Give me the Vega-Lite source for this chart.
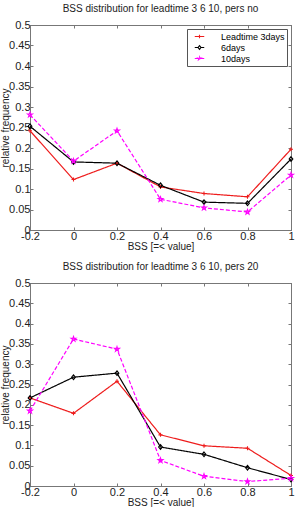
{
  "$schema": "https://vega.github.io/schema/vega-lite/v6.json",
  "padding": {"left": 0, "top": 3, "right": 5, "bottom": 0},
  "background": "white",
  "spacing": 9,
  "data": {
    "values": [
      {"panel": "no", "series": "Leadtime 3days", "bss": -0.2, "freq": 0.242},
      {"panel": "no", "series": "Leadtime 3days", "bss": 0.0, "freq": 0.123},
      {"panel": "no", "series": "Leadtime 3days", "bss": 0.2, "freq": 0.163},
      {"panel": "no", "series": "Leadtime 3days", "bss": 0.4, "freq": 0.105},
      {"panel": "no", "series": "Leadtime 3days", "bss": 0.6, "freq": 0.089},
      {"panel": "no", "series": "Leadtime 3days", "bss": 0.8, "freq": 0.081},
      {"panel": "no", "series": "Leadtime 3days", "bss": 1.0, "freq": 0.197},
      {"panel": "no", "series": "6days", "bss": -0.2, "freq": 0.253},
      {"panel": "no", "series": "6days", "bss": 0.0, "freq": 0.166},
      {"panel": "no", "series": "6days", "bss": 0.2, "freq": 0.163},
      {"panel": "no", "series": "6days", "bss": 0.4, "freq": 0.109},
      {"panel": "no", "series": "6days", "bss": 0.6, "freq": 0.068},
      {"panel": "no", "series": "6days", "bss": 0.8, "freq": 0.065},
      {"panel": "no", "series": "6days", "bss": 1.0, "freq": 0.173},
      {"panel": "no", "series": "10days", "bss": -0.2, "freq": 0.281},
      {"panel": "no", "series": "10days", "bss": 0.0, "freq": 0.168},
      {"panel": "no", "series": "10days", "bss": 0.2, "freq": 0.242},
      {"panel": "no", "series": "10days", "bss": 0.4, "freq": 0.075},
      {"panel": "no", "series": "10days", "bss": 0.6, "freq": 0.054},
      {"panel": "no", "series": "10days", "bss": 0.8, "freq": 0.044},
      {"panel": "no", "series": "10days", "bss": 1.0, "freq": 0.134},
      {"panel": "20", "series": "Leadtime 3days", "bss": -0.2, "freq": 0.217},
      {"panel": "20", "series": "Leadtime 3days", "bss": 0.0, "freq": 0.179},
      {"panel": "20", "series": "Leadtime 3days", "bss": 0.2, "freq": 0.258},
      {"panel": "20", "series": "Leadtime 3days", "bss": 0.4, "freq": 0.126},
      {"panel": "20", "series": "Leadtime 3days", "bss": 0.6, "freq": 0.099},
      {"panel": "20", "series": "Leadtime 3days", "bss": 0.8, "freq": 0.093},
      {"panel": "20", "series": "Leadtime 3days", "bss": 1.0, "freq": 0.026},
      {"panel": "20", "series": "6days", "bss": -0.2, "freq": 0.217},
      {"panel": "20", "series": "6days", "bss": 0.0, "freq": 0.268},
      {"panel": "20", "series": "6days", "bss": 0.2, "freq": 0.278},
      {"panel": "20", "series": "6days", "bss": 0.4, "freq": 0.096},
      {"panel": "20", "series": "6days", "bss": 0.6, "freq": 0.078},
      {"panel": "20", "series": "6days", "bss": 0.8, "freq": 0.045},
      {"panel": "20", "series": "6days", "bss": 1.0, "freq": 0.016},
      {"panel": "20", "series": "10days", "bss": -0.2, "freq": 0.185},
      {"panel": "20", "series": "10days", "bss": 0.0, "freq": 0.362},
      {"panel": "20", "series": "10days", "bss": 0.2, "freq": 0.337},
      {"panel": "20", "series": "10days", "bss": 0.4, "freq": 0.063},
      {"panel": "20", "series": "10days", "bss": 0.6, "freq": 0.024},
      {"panel": "20", "series": "10days", "bss": 0.8, "freq": 0.011},
      {"panel": "20", "series": "10days", "bss": 1.0, "freq": 0.019}
    ]
  },
  "vconcat": [
    {
      "width": 261,
      "height": 205,
      "title": {"text": "BSS distribution for leadtime 3 6 10, pers no"},
      "transform": [{"filter": "datum.panel == 'no'"}],
      "layer": [
        {
          "mark": {"type": "line", "strokeWidth": 1.2},
          "encoding": {
            "x": {"field": "bss", "type": "quantitative", "title": "BSS [=< value]",
                  "scale": {"domain": [-0.2, 1], "nice": false, "zero": false},
                  "axis": {"values": [-0.2, 0, 0.2, 0.4, 0.6, 0.8, 1], "labelExpr": "replace(format(datum.value, '~g'), '−', '-')"}},
            "y": {"field": "freq", "type": "quantitative", "title": "relative frequency",
                  "scale": {"domain": [0, 0.5], "nice": false},
                  "axis": {"values": [0, 0.05, 0.1, 0.15, 0.2, 0.25, 0.3, 0.35, 0.4, 0.45, 0.5], "format": "~g"}},
            "color": {"field": "series", "type": "nominal",
                      "scale": {"domain": ["Leadtime 3days", "6days", "10days"], "range": ["#ee1c1c", "#000000", "#ff00ff"]},
                      "legend": {"title": null, "orient": "top-right", "offset": 4, "padding": 2,
                                 "strokeColor": "#555555", "fillColor": "white", "cornerRadius": 0,
                                 "labelFont": "Liberation Sans", "labelFontSize": 9, "labelColor": "black",
                                 "symbolSize": 90, "symbolOffset": 5, "symbolStrokeWidth": 1.1, "rowPadding": 0, "labelOffset": 16,
                                 "encode": {"symbols": {"update": {
                                   "shape": {"signal": "datum.value == 'Leadtime 3days' ? 'M-1,0H1M0,-0.35V0.35' : datum.value == '6days' ? 'M-1,0H-0.3M0.3,0H1M0,-0.4L0.3,0L0,0.4L-0.3,0Z' : 'M-1,0H-0.33M0.33,0H1M0,-0.35L0.079,-0.108L0.333,-0.108L0.127,0.041L0.206,0.283L0,0.134L-0.206,0.283L-0.127,0.041L-0.333,-0.108L-0.079,-0.108Z'"},
                                   "strokeDash": {"signal": "datum.value == '10days' ? [3, 2] : [1, 0]"},
                                   "stroke": {"signal": "datum.value == 'Leadtime 3days' ? '#ee1c1c' : datum.value == '6days' ? '#000000' : '#ff00ff'"},
                                   "fill": {"value": "transparent"}
                                 }}}}},
            "strokeDash": {"field": "series", "type": "nominal",
                           "scale": {"domain": ["Leadtime 3days", "6days", "10days"], "range": [[1, 0], [1, 0], [4, 2]]},
                           "legend": null}
          }
        },
        {
          "transform": [{"filter": "datum.series == 'Leadtime 3days'"}],
          "mark": {"type": "point", "filled": false, "strokeWidth": 1.1, "opacity": 1, "color": "#ee1c1c", "shape": "M-1,0H1M0,-1V1", "size": 16},
          "encoding": {
            "x": {"field": "bss", "type": "quantitative",
                  "axis": {"orient": "top", "labels": false, "title": null, "values": [-0.2, 0, 0.2, 0.4, 0.6, 0.8, 1]}},
            "y": {"field": "freq", "type": "quantitative",
                  "axis": {"orient": "right", "labels": false, "title": null, "values": [0, 0.05, 0.1, 0.15, 0.2, 0.25, 0.3, 0.35, 0.4, 0.45, 0.5]}}
          }
        },
        {
          "transform": [{"filter": "datum.series == '6days'"}],
          "mark": {"type": "point", "filled": false, "strokeWidth": 1.1, "opacity": 1, "color": "#000000", "shape": "M0,-1L0.8,0L0,1L-0.8,0Z", "size": 22},
          "encoding": {
            "x": {"field": "bss", "type": "quantitative", "axis": null},
            "y": {"field": "freq", "type": "quantitative", "axis": null}
          }
        },
        {
          "transform": [{"filter": "datum.series == '10days'"}],
          "mark": {"type": "point", "filled": false, "strokeWidth": 1.1, "opacity": 1, "color": "#ff00ff", "shape": "M0,-1L0.225,-0.309L0.951,-0.309L0.363,0.118L0.588,0.809L0,0.382L-0.588,0.809L-0.363,0.118L-0.951,-0.309L-0.225,-0.309Z", "size": 26},
          "encoding": {
            "x": {"field": "bss", "type": "quantitative", "axis": null},
            "y": {"field": "freq", "type": "quantitative", "axis": null}
          }
        }
      ],
      "resolve": {"axis": {"x": "independent", "y": "independent"}}
    },
    {
      "width": 261,
      "height": 203,
      "title": {"text": "BSS distribution for leadtime 3 6 10, pers 20"},
      "transform": [{"filter": "datum.panel == '20'"}],
      "layer": [
        {
          "mark": {"type": "line", "strokeWidth": 1.2},
          "encoding": {
            "x": {"field": "bss", "type": "quantitative", "title": "BSS [=< value]",
                  "scale": {"domain": [-0.2, 1], "nice": false, "zero": false},
                  "axis": {"values": [-0.2, 0, 0.2, 0.4, 0.6, 0.8, 1], "labelExpr": "replace(format(datum.value, '~g'), '−', '-')"}},
            "y": {"field": "freq", "type": "quantitative", "title": "relative frequency",
                  "scale": {"domain": [0, 0.5], "nice": false},
                  "axis": {"values": [0, 0.05, 0.1, 0.15, 0.2, 0.25, 0.3, 0.35, 0.4, 0.45, 0.5], "format": "~g"}},
            "color": {"field": "series", "type": "nominal",
                      "scale": {"domain": ["Leadtime 3days", "6days", "10days"], "range": ["#ee1c1c", "#000000", "#ff00ff"]},
                      "legend": {"title": null, "orient": "top-right", "offset": 4, "padding": 2,
                                 "strokeColor": "#555555", "fillColor": "white", "cornerRadius": 0,
                                 "labelFont": "Liberation Sans", "labelFontSize": 9, "labelColor": "black",
                                 "symbolSize": 90, "symbolOffset": 5, "symbolStrokeWidth": 1.1, "rowPadding": 0, "labelOffset": 16,
                                 "encode": {"symbols": {"update": {
                                   "shape": {"signal": "datum.value == 'Leadtime 3days' ? 'M-1,0H1M0,-0.35V0.35' : datum.value == '6days' ? 'M-1,0H-0.3M0.3,0H1M0,-0.4L0.3,0L0,0.4L-0.3,0Z' : 'M-1,0H-0.33M0.33,0H1M0,-0.35L0.079,-0.108L0.333,-0.108L0.127,0.041L0.206,0.283L0,0.134L-0.206,0.283L-0.127,0.041L-0.333,-0.108L-0.079,-0.108Z'"},
                                   "strokeDash": {"signal": "datum.value == '10days' ? [3, 2] : [1, 0]"},
                                   "stroke": {"signal": "datum.value == 'Leadtime 3days' ? '#ee1c1c' : datum.value == '6days' ? '#000000' : '#ff00ff'"},
                                   "fill": {"value": "transparent"}
                                 }}}}},
            "strokeDash": {"field": "series", "type": "nominal",
                           "scale": {"domain": ["Leadtime 3days", "6days", "10days"], "range": [[1, 0], [1, 0], [4, 2]]},
                           "legend": null}
          }
        },
        {
          "transform": [{"filter": "datum.series == 'Leadtime 3days'"}],
          "mark": {"type": "point", "filled": false, "strokeWidth": 1.1, "opacity": 1, "color": "#ee1c1c", "shape": "M-1,0H1M0,-1V1", "size": 16},
          "encoding": {
            "x": {"field": "bss", "type": "quantitative",
                  "axis": {"orient": "top", "labels": false, "title": null, "values": [-0.2, 0, 0.2, 0.4, 0.6, 0.8, 1]}},
            "y": {"field": "freq", "type": "quantitative",
                  "axis": {"orient": "right", "labels": false, "title": null, "values": [0, 0.05, 0.1, 0.15, 0.2, 0.25, 0.3, 0.35, 0.4, 0.45, 0.5]}}
          }
        },
        {
          "transform": [{"filter": "datum.series == '6days'"}],
          "mark": {"type": "point", "filled": false, "strokeWidth": 1.1, "opacity": 1, "color": "#000000", "shape": "M0,-1L0.8,0L0,1L-0.8,0Z", "size": 22},
          "encoding": {
            "x": {"field": "bss", "type": "quantitative", "axis": null},
            "y": {"field": "freq", "type": "quantitative", "axis": null}
          }
        },
        {
          "transform": [{"filter": "datum.series == '10days'"}],
          "mark": {"type": "point", "filled": false, "strokeWidth": 1.1, "opacity": 1, "color": "#ff00ff", "shape": "M0,-1L0.225,-0.309L0.951,-0.309L0.363,0.118L0.588,0.809L0,0.382L-0.588,0.809L-0.363,0.118L-0.951,-0.309L-0.225,-0.309Z", "size": 26},
          "encoding": {
            "x": {"field": "bss", "type": "quantitative", "axis": null},
            "y": {"field": "freq", "type": "quantitative", "axis": null}
          }
        }
      ],
      "resolve": {"axis": {"x": "independent", "y": "independent"}}
    }
  ],
  "config": {
    "font": "Liberation Sans",
    "view": {"stroke": "#777777", "strokeWidth": 1},
    "axis": {
      "grid": false,
      "domainColor": "#777777",
      "tickColor": "#777777",
      "tickSize": -3,
      "labelColor": "#222222",
      "labelFont": "Liberation Sans",
      "labelFontSize": 11,
      "labelPadding": 3,
      "labelFlush": false,
      "labelOverlap": false,
      "titleFont": "Liberation Sans",
      "titleFontSize": 10,
      "titleFontWeight": "normal",
      "titleColor": "#222222"
    },
    "axisY": {"titlePadding": -2},
    "axisX": {"titlePadding": 0},
    "title": {"font": "Liberation Sans", "fontSize": 10, "fontWeight": "normal", "color": "#222222", "offset": 5}
  }
}
